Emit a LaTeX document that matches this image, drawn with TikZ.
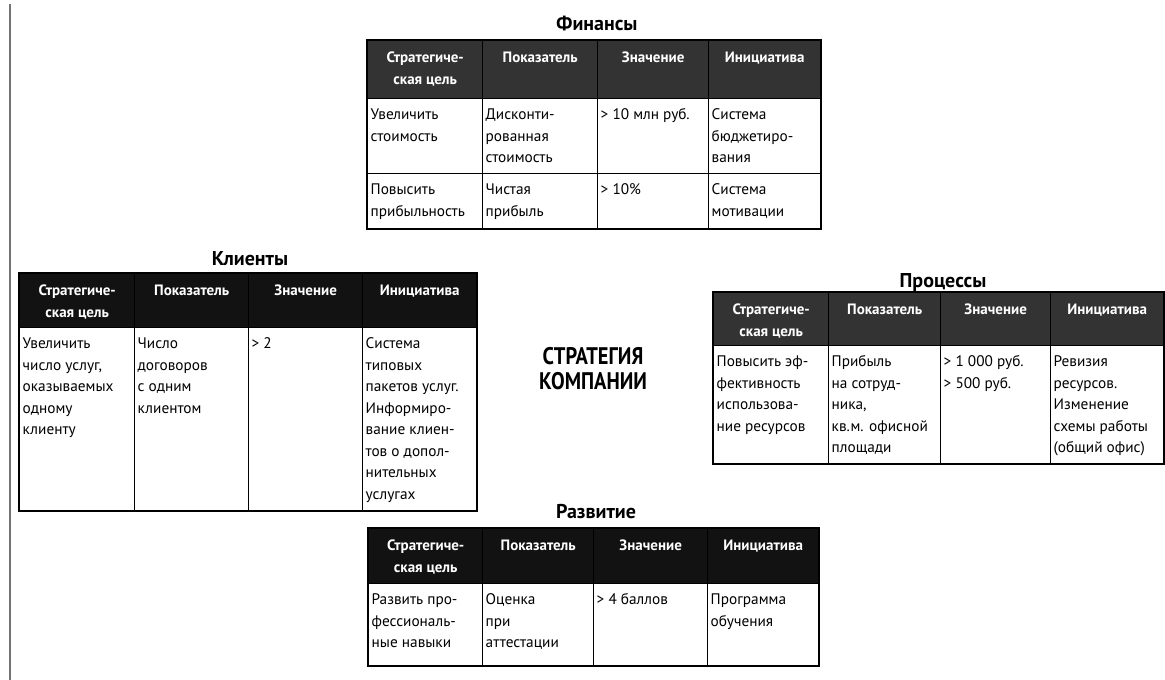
\documentclass[tikz,border=0pt]{standalone}
\usepackage{fontspec}
\setmainfont{PT Sans}
\newfontfamily\condfont[FakeStretch=0.85]{PT Sans}
\newcommand\bodyfont{\fontsize{15.3}{21.5}\selectfont}
\newcommand\headfont{\bfseries\fontsize{15}{21.5}\selectfont}
\newcommand\titlefont{\bfseries\fontsize{20}{24}\selectfont}
\newcommand\midfont{\condfont\bfseries\fontsize{24}{25}\selectfont}
\newcommand\bcell[6]{\node[bodycell,anchor=north west] (#1) at (#2,#3) {\parbox[c][#5pt][t]{#4pt}{\raggedright\leftskip=3pt\rule{0pt}{21pt}#6}};}
\newcommand\hcell[7]{\node[#7,anchor=north west] (#1) at (#2,#3) {\parbox[c][#5pt][t]{#4pt}{\centering\rule{0pt}{22pt}#6}};}
\tikzset{
 bodycell/.style={draw=black, line width=1.4pt, inner sep=0pt, fill=white, font=\bodyfont},
 headcell/.style={draw=black, line width=1.4pt, inner sep=0pt, text=white, font=\headfont},
 hdrgrey/.style={headcell, fill=black!80},
 hdrdark/.style={headcell, fill=black!93},
 outerframe/.style={draw=black, line width=2pt},
 ttl/.style={font=\titlefont, anchor=base, inner sep=0pt},
 midtext/.style={font=\midfont, align=center, inner sep=0pt},
 edgeline/.style={draw=black!55, line width=1.5pt}
}
\begin{document}
\begin{tikzpicture}[x=1pt,y=-1pt]
\useasboundingbox (0,0) rectangle (1165,680);
\fill[white] (0,0) rectangle (1165,680);
% page edge line
\coordinate (lt) at (10,4);
\coordinate (lb) at (10,680);
\draw[edgeline] (lt) -- (lb);

% ---------------- Finance
\node[ttl] (tf) at (597,30) {Финансы};
\hcell{f1}{367}{40}{115}{58}{Стратегиче-\\ская цель}{hdrgrey}
\hcell{f2}{482}{40}{115}{58}{Показатель}{hdrgrey}
\hcell{f3}{597}{40}{111}{58}{Значение}{hdrgrey}
\hcell{f4}{708}{40}{112}{58}{Инициатива}{hdrgrey}
\bcell{f11}{367}{98}{115}{75}{Увеличить\\стоимость}
\bcell{f12}{482}{98}{115}{75}{Дисконти-\\рованная\\стоимость}
\bcell{f13}{597}{98}{111}{75}{> 10 млн руб.}
\bcell{f14}{708}{98}{112}{75}{Система\\бюджетиро-\\вания}
\bcell{f21}{367}{173}{115}{55}{Повысить\\прибыльность}
\bcell{f22}{482}{173}{115}{55}{Чистая\\прибыль}
\bcell{f23}{597}{173}{111}{55}{> 10\%}
\bcell{f24}{708}{173}{112}{55}{Система\\мотивации}
\draw[outerframe] (f1.north west) rectangle (f24.south east);

% ---------------- Clients
\node[ttl] (tc) at (250,265) {Клиенты};
\hcell{c1}{19}{273}{115}{54}{Стратегиче-\\ская цель}{hdrdark}
\hcell{c2}{134}{273}{114}{54}{Показатель}{hdrdark}
\hcell{c3}{248}{273}{114}{54}{Значение}{hdrdark}
\hcell{c4}{362}{273}{114}{54}{Инициатива}{hdrdark}
\bcell{c11}{19}{327}{115}{183}{Увеличить\\число услуг,\\оказываемых\\одному\\клиенту}
\bcell{c12}{134}{327}{114}{183}{Число\\договоров\\с одним\\клиентом}
\bcell{c13}{248}{327}{114}{183}{> 2}
\bcell{c14}{362}{327}{114}{183}{Система\\типовых\\пакетов услуг.\\Информиро-\\вание клиен-\\тов о допол-\\нительных\\услугах}
\draw[outerframe] (c1.north west) rectangle (c14.south east);

% ---------------- Processes
\node[ttl] (tp) at (943,287) {Процессы};
\hcell{p1}{713}{292}{115}{53}{Стратегиче-\\ская цель}{hdrgrey}
\hcell{p2}{828}{292}{112}{53}{Показатель}{hdrgrey}
\hcell{p3}{940}{292}{110}{53}{Значение}{hdrgrey}
\hcell{p4}{1050}{292}{113}{53}{Инициатива}{hdrgrey}
\bcell{p11}{713}{345}{115}{118}{Повысить эф-\\фективность\\использова-\\ние ресурсов}
\bcell{p12}{828}{345}{112}{118}{Прибыль\\на сотруд-\\ника,\\кв.м. офисной\\площади}
\bcell{p13}{940}{345}{110}{118}{> 1~000 руб.\\> 500 руб.}
\bcell{p14}{1050}{345}{113}{118}{Ревизия\\ресурсов.\\Изменение\\схемы работы\\(общий офис)}
\draw[outerframe] (p1.north west) rectangle (p14.south east);

% ---------------- Development
\node[ttl] (td) at (596,518) {Развитие};
\hcell{d1}{368}{528}{114}{55}{Стратегиче-\\ская цель}{hdrdark}
\hcell{d2}{482}{528}{111}{55}{Показатель}{hdrdark}
\hcell{d3}{593}{528}{114}{55}{Значение}{hdrdark}
\hcell{d4}{707}{528}{111}{55}{Инициатива}{hdrdark}
\bcell{d11}{368}{583}{114}{82}{Развить про-\\фессиональ-\\ные навыки}
\bcell{d12}{482}{583}{111}{82}{Оценка\\при\\аттестации}
\bcell{d13}{593}{583}{114}{82}{> 4 баллов}
\bcell{d14}{707}{583}{111}{82}{Программа\\обучения}
\draw[outerframe] (d1.north west) rectangle (d14.south east);

% ---------------- centre
\node[midtext] (mid) at (593,369) {СТРАТЕГИЯ\\КОМПАНИИ};
\end{tikzpicture}
\end{document}
